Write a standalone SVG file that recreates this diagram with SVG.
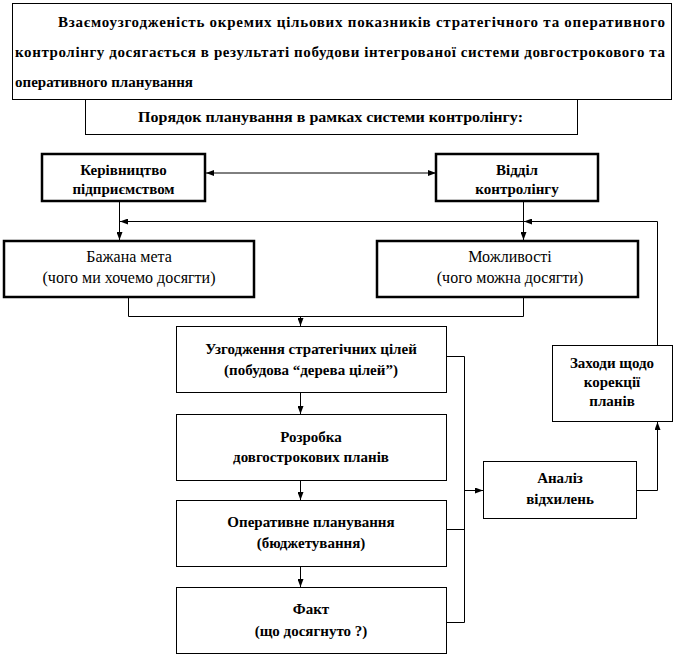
<svg xmlns="http://www.w3.org/2000/svg" width="679" height="656" viewBox="0 0 679 656">
<defs>
<style>
.box{fill:#fff;stroke:#000;stroke-width:1}
.thick{fill:#fff;stroke:#000;stroke-width:2.5}
.t{font-family:"Liberation Serif","Times New Roman",serif;font-size:15px;font-weight:bold;fill:#000;text-anchor:middle}
.r{font-weight:normal;font-size:16px}
.top{font-family:"Liberation Serif","Times New Roman",serif;font-size:15px;font-weight:bold;fill:#000}
.ln{fill:none;stroke:#000;stroke-width:1}
</style>
<marker id="ah" viewBox="0 0 8 6" refX="8" refY="3" markerWidth="8" markerHeight="6" markerUnits="userSpaceOnUse" orient="auto-start-reverse">
<path d="M0,0 L8,3 L0,6 Z" fill="#000"/>
</marker>
</defs>
<rect width="679" height="656" fill="#fff"/>

<g id="header">
<rect class="box" x="12.5" y="3.5" width="659" height="96"/>
<text class="top" x="58" y="27" textLength="607" lengthAdjust="spacing">Взаємоузгодженість окремих цільових показників стратегічного та оперативного</text>
<text class="top" x="15" y="57" textLength="650" lengthAdjust="spacing">контролінгу досягається в результаті побудови інтегрованої системи довгострокового та</text>
<text class="top" x="15" y="87">оперативного планування</text>
</g>

<g id="subtitle">
<rect class="box" x="85.5" y="99.5" width="492" height="35"/>
<text class="top" x="138" y="122" textLength="385" lengthAdjust="spacingAndGlyphs">Порядок планування в рамках системи контролінгу:</text>
</g>

<g id="connectors">
<line class="ln" x1="206" y1="173" x2="436" y2="173" marker-start="url(#ah)" marker-end="url(#ah)"/>
<line class="ln" x1="119.5" y1="202" x2="119.5" y2="240" marker-end="url(#ah)"/>
<line class="ln" x1="523.5" y1="202" x2="523.5" y2="240" marker-end="url(#ah)"/>
<polyline class="ln" points="657.5,345 657.5,221.5 524,221.5" marker-end="url(#ah)"/>
<line class="ln" x1="524" y1="221.5" x2="120" y2="221.5" marker-end="url(#ah)"/>
<polyline class="ln" points="128.5,297 128.5,316.5 523.5,316.5 523.5,297"/>
<line class="ln" x1="300.5" y1="316.5" x2="300.5" y2="326" marker-end="url(#ah)"/>
<line class="ln" x1="300.5" y1="392" x2="300.5" y2="414" marker-end="url(#ah)"/>
<line class="ln" x1="300.5" y1="480" x2="300.5" y2="500" marker-end="url(#ah)"/>
<line class="ln" x1="300.5" y1="567" x2="300.5" y2="587" marker-end="url(#ah)"/>
<polyline class="ln" points="447,356.5 464.5,356.5 464.5,622.5 447,622.5"/>
<line class="ln" x1="447" y1="529.5" x2="464.5" y2="529.5"/>
<line class="ln" x1="464.5" y1="490.5" x2="483" y2="490.5" marker-end="url(#ah)"/>
<polyline class="ln" points="637,490.5 657.5,490.5 657.5,422" marker-end="url(#ah)"/>
</g>

<g id="management">
<rect class="thick" x="42" y="154" width="163" height="47"/>
<text class="t" x="123.5" y="175">Керівництво</text>
<text class="t" x="123.5" y="194">підприємством</text>
</g>

<g id="controlling">
<rect class="thick" x="436" y="154" width="162" height="47"/>
<text class="t" x="517" y="175">Відділ</text>
<text class="t" x="517" y="194">контролінгу</text>
</g>

<g id="goal">
<rect class="thick" x="4" y="241" width="250" height="56"/>
<text class="t r" x="129" y="262">Бажана мета</text>
<text class="t r" x="129" y="283">(чого ми хочемо досягти)</text>
</g>

<g id="possibilities">
<rect class="thick" x="377" y="241" width="261" height="56"/>
<text class="t r" x="510" y="262">Можливості</text>
<text class="t r" x="510" y="283">(чого можна досягти)</text>
</g>

<g id="strategic">
<rect class="box" x="176.5" y="326.5" width="270" height="66"/>
<text class="t" x="311" y="354">Узгодження стратегічних цілей</text>
<text class="t" x="311" y="375">(побудова “дерева цілей”)</text>
</g>

<g id="longterm">
<rect class="box" x="176.5" y="414.5" width="270" height="66"/>
<text class="t" x="311" y="442">Розробка</text>
<text class="t" x="311" y="462">довгострокових планів</text>
</g>

<g id="operational">
<rect class="box" x="176.5" y="500.5" width="270" height="66"/>
<text class="t" x="311" y="527">Оперативне планування</text>
<text class="t" x="311" y="548">(бюджетування)</text>
</g>

<g id="fact">
<rect class="box" x="176.5" y="587.5" width="270" height="66"/>
<text class="t" x="311" y="614">Факт</text>
<text class="t" x="311" y="636">(що досягнуто ?)</text>
</g>

<g id="analysis">
<rect class="box" x="483.5" y="461.5" width="153" height="57"/>
<text class="t" x="560" y="483">Аналіз</text>
<text class="t" x="560" y="504">відхилень</text>
</g>

<g id="correction">
<rect class="box" x="552.5" y="345.5" width="120" height="76"/>
<text class="t" x="612" y="368">Заходи щодо</text>
<text class="t" x="612" y="387">корекції</text>
<text class="t" x="612" y="406">планів</text>
</g>
</svg>
